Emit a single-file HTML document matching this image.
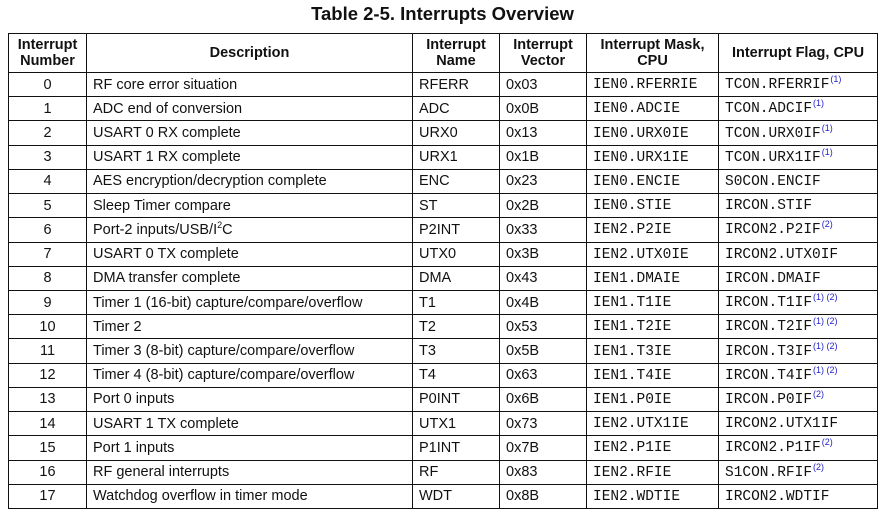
<!DOCTYPE html>
<html><head><meta charset="utf-8"><style>
body{margin:0;width:885px;height:520px;background:#fff;position:relative;overflow:hidden;font-family:"Liberation Sans",sans-serif;color:#111}
.t{position:absolute;top:3px;left:0;width:885px;text-align:center;font-weight:bold;font-size:18.5px}
table{position:absolute;left:8px;top:33px;width:869px;height:476px;border-collapse:collapse;table-layout:fixed}
td,th{border:1px solid #111;padding:0 0 0 6px;font-size:14.5px;white-space:nowrap;overflow:hidden}
th{text-align:center;padding:0;line-height:16px;font-size:14.5px;height:38px}
td:first-child{text-align:center;padding:0}
td.m{font-family:"Liberation Mono",monospace;font-size:14.5px;padding-top:1px}
sup{color:#22c;font-size:9px;font-family:"Liberation Sans",sans-serif;vertical-align:6px;line-height:0;margin-left:1px}
</style></head><body>
<div class="t">Table 2-5. Interrupts Overview</div>
<table>
<colgroup><col style="width:78px"><col style="width:326px"><col style="width:87px"><col style="width:87px"><col style="width:132px"><col style="width:159px"></colgroup>
<tr><th>Interrupt<br>Number</th><th>Description</th><th>Interrupt<br>Name</th><th>Interrupt<br>Vector</th><th>Interrupt Mask,<br>CPU</th><th>Interrupt Flag, CPU</th></tr>
<tr><td>0</td><td>RF core error situation</td><td>RFERR</td><td>0x03</td><td class="m">IEN0.RFERRIE</td><td class="m">TCON.RFERRIF<sup>(1)</sup></td></tr>
<tr><td>1</td><td>ADC end of conversion</td><td>ADC</td><td>0x0B</td><td class="m">IEN0.ADCIE</td><td class="m">TCON.ADCIF<sup>(1)</sup></td></tr>
<tr><td>2</td><td>USART 0 RX complete</td><td>URX0</td><td>0x13</td><td class="m">IEN0.URX0IE</td><td class="m">TCON.URX0IF<sup>(1)</sup></td></tr>
<tr><td>3</td><td>USART 1 RX complete</td><td>URX1</td><td>0x1B</td><td class="m">IEN0.URX1IE</td><td class="m">TCON.URX1IF<sup>(1)</sup></td></tr>
<tr><td>4</td><td>AES encryption/decryption complete</td><td>ENC</td><td>0x23</td><td class="m">IEN0.ENCIE</td><td class="m">S0CON.ENCIF</td></tr>
<tr><td>5</td><td>Sleep Timer compare</td><td>ST</td><td>0x2B</td><td class="m">IEN0.STIE</td><td class="m">IRCON.STIF</td></tr>
<tr><td>6</td><td>Port-2 inputs/USB/I<sup style="color:#111;margin:0">2</sup>C</td><td>P2INT</td><td>0x33</td><td class="m">IEN2.P2IE</td><td class="m">IRCON2.P2IF<sup>(2)</sup></td></tr>
<tr><td>7</td><td>USART 0 TX complete</td><td>UTX0</td><td>0x3B</td><td class="m">IEN2.UTX0IE</td><td class="m">IRCON2.UTX0IF</td></tr>
<tr><td>8</td><td>DMA transfer complete</td><td>DMA</td><td>0x43</td><td class="m">IEN1.DMAIE</td><td class="m">IRCON.DMAIF</td></tr>
<tr><td>9</td><td>Timer 1 (16-bit) capture/compare/overflow</td><td>T1</td><td>0x4B</td><td class="m">IEN1.T1IE</td><td class="m">IRCON.T1IF<sup>(1) (2)</sup></td></tr>
<tr><td>10</td><td>Timer 2</td><td>T2</td><td>0x53</td><td class="m">IEN1.T2IE</td><td class="m">IRCON.T2IF<sup>(1) (2)</sup></td></tr>
<tr><td>11</td><td>Timer 3 (8-bit) capture/compare/overflow</td><td>T3</td><td>0x5B</td><td class="m">IEN1.T3IE</td><td class="m">IRCON.T3IF<sup>(1) (2)</sup></td></tr>
<tr><td>12</td><td>Timer 4 (8-bit) capture/compare/overflow</td><td>T4</td><td>0x63</td><td class="m">IEN1.T4IE</td><td class="m">IRCON.T4IF<sup>(1) (2)</sup></td></tr>
<tr><td>13</td><td>Port 0 inputs</td><td>P0INT</td><td>0x6B</td><td class="m">IEN1.P0IE</td><td class="m">IRCON.P0IF<sup>(2)</sup></td></tr>
<tr><td>14</td><td>USART 1 TX complete</td><td>UTX1</td><td>0x73</td><td class="m">IEN2.UTX1IE</td><td class="m">IRCON2.UTX1IF</td></tr>
<tr><td>15</td><td>Port 1 inputs</td><td>P1INT</td><td>0x7B</td><td class="m">IEN2.P1IE</td><td class="m">IRCON2.P1IF<sup>(2)</sup></td></tr>
<tr><td>16</td><td>RF general interrupts</td><td>RF</td><td>0x83</td><td class="m">IEN2.RFIE</td><td class="m">S1CON.RFIF<sup>(2)</sup></td></tr>
<tr><td>17</td><td>Watchdog overflow in timer mode</td><td>WDT</td><td>0x8B</td><td class="m">IEN2.WDTIE</td><td class="m">IRCON2.WDTIF</td></tr>
</table>
</body></html>
